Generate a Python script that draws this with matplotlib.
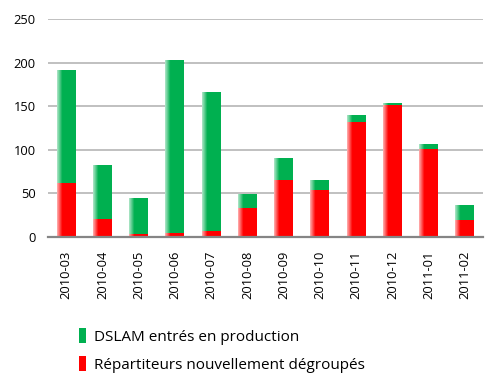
import numpy as np
import matplotlib
matplotlib.use('Agg')
import matplotlib.pyplot as plt

months = ['2010-03', '2010-04', '2010-05', '2010-06', '2010-07', '2010-08',
          '2010-09', '2010-10', '2010-11', '2010-12', '2011-01', '2011-02']
repartiteurs = [62, 21, 3, 4, 7, 33, 65, 54, 132, 151, 101, 19]
totals = [192, 82, 45, 203, 166, 49, 91, 65, 140, 154, 106, 36]
dslam = [t - r for t, r in zip(totals, repartiteurs)]

plt.rcParams['font.family'] = ['Open Sans', 'DejaVu Sans']

fig = plt.figure(figsize=(5, 3.79), dpi=100)
ax = fig.add_axes([0.096, 0.375, 0.87, 0.575])

x = np.arange(len(months))
red_bars = ax.bar(x, repartiteurs, width=0.52, color='#ff0000', zorder=3,
                  label='Répartiteurs nouvellement dégroupés')
green_bars = ax.bar(x, dslam, width=0.52, bottom=repartiteurs, color='#00b050',
                    zorder=3, label='DSLAM entrés en production')

# light fade on the left side of each bar
grad = np.zeros((1, 100, 4))
grad[..., :3] = 1.0
grad[0, :, 3] = np.clip(1 - np.linspace(0, 1, 100) / 0.28, 0, 1) * 0.7
for p in list(red_bars) + list(green_bars):
    if p.get_height() <= 0:
        continue
    x0, y0 = p.get_x(), p.get_y()
    im = ax.imshow(grad, extent=[x0, x0 + p.get_width(), y0, y0 + p.get_height()],
                   aspect='auto', zorder=4, interpolation='bilinear')
    im.set_clip_path(p)

ax.set_xlim(-0.5, len(months) - 0.5)
ax.set_ylim(0, 250)
ax.set_yticks(range(0, 251, 50))
ax.yaxis.grid(True, color='#b5b5b5', linewidth=1.2, zorder=0)
ax.set_axisbelow(True)
for s in ['left', 'right', 'top']:
    ax.spines[s].set_visible(False)
ax.spines['bottom'].set_color('#858585')
ax.spines['bottom'].set_linewidth(1.6)
ax.spines['bottom'].set_zorder(5)

ax.set_xticks(x)
ax.set_xticklabels(months, rotation=90, fontsize=9.3)
ax.tick_params(axis='x', length=0, pad=10)
ax.tick_params(axis='y', length=0, pad=9, labelsize=9.3)

handles = [green_bars, red_bars]
labels = ['DSLAM entrés en production', 'Répartiteurs nouvellement dégroupés']
fig.legend(handles, labels, loc='upper left', bbox_to_anchor=(0.145, 0.15),
           frameon=False, fontsize=11, handlelength=0.5, handleheight=1.1,
           handletextpad=0.5, labelspacing=0.75, borderaxespad=0)

fig.savefig('out.png', dpi=100)
